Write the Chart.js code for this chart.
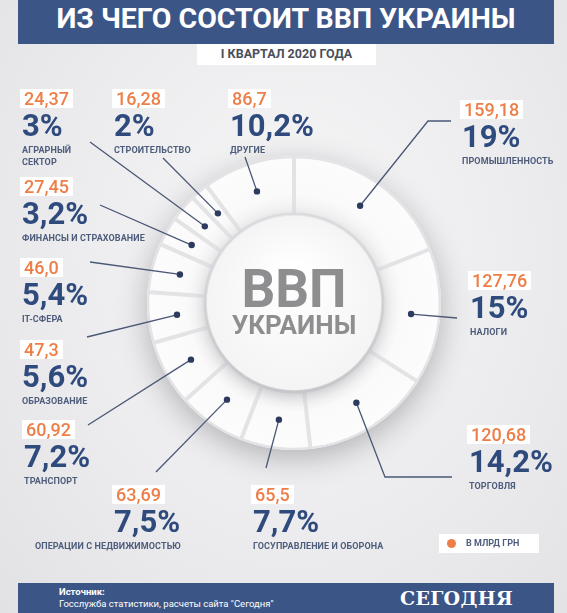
<!DOCTYPE html>
<html lang="ru">
<head>
<meta charset="utf-8">
<title>Из чего состоит ВВП Украины</title>
<script src="https://cdn.jsdelivr.net/npm/chart.js@4.4.1/dist/chart.umd.min.js"></script>
<style>
  html, body { margin: 0; padding: 0; }
  body {
    width: 567px; height: 613px; position: relative; overflow: hidden;
    font-family: Roboto, "Noto Sans", sans-serif;
    background: radial-gradient(ellipse at 52% 42%, #f7f7f8 0%, #ececee 55%, #e2e2e5 100%);
  }
  #chart { position: absolute; left: 0; top: 0; }
  .title-bar {
    position: absolute; left: 18px; top: 0; width: 536px; height: 44px;
    background: #3c5587; color: #fff; font-weight: 700; font-size: 28.5px;
    text-align: center; line-height: 38px;
  }
  .subtitle {
    position: absolute; left: 197px; top: 44px; width: 179px; height: 21px;
    background: #fff; color: #4a4f5c; font-weight: 700; font-size: 12.5px;
    text-align: center; line-height: 20px;
  }
  .lbl { position: absolute; }
  .lbl .num {
    position: absolute; left: 0; top: 0; height: 19px; line-height: 19px;
    background: #fff; color: #ee7e48; font-size: 18px; font-weight: 500; padding: 0 4px; white-space: nowrap;
  }
  .lbl .pct {
    position: absolute; left: 2px; top: 21px; line-height: 31px;
    color: #2f4a7c; font-weight: 700; font-size: 31px; white-space: nowrap;
  }
  .lbl .name {
    position: absolute; left: 2px; top: 55px; line-height: 12px;
    color: #4e5d7c; font-weight: 700; font-size: 9px; white-space: nowrap; letter-spacing: 0.1px;
  }
  .lbl.right-name .name { left: auto; right: -69px; text-align: right; }
  .center-text {
    position: absolute; left: 194px; width: 200px; text-align: center;
    color: #8e8e90; font-weight: 700;
  }
  .legend {
    position: absolute; left: 439px; top: 534px; width: 100px; height: 19px;
    background: #fff; color: #4e5d7c; font-size: 9px; font-weight: 700; line-height: 19px;
  }
  .legend span.dot {
    position: absolute; left: 8px; top: 5px; width: 9px; height: 9px; border-radius: 50%;
    background: #ee7e48;
  }
  .legend span.txt { position: absolute; left: 27px; }
  .footer {
    position: absolute; left: 18px; top: 583px; width: 536px; height: 30px;
    background: #3c5587; color: #fff;
  }
  .footer .src { position: absolute; left: 41px; top: 3px; font-size: 9.5px; line-height: 12px; }
  .footer .brand {
    position: absolute; left: 382px; top: 3px; font-family: "DejaVu Serif", serif;
    font-weight: 700; font-size: 19px; line-height: 24px; letter-spacing: 0.3px;
  }
</style>
</head>
<body>
<canvas id="chart" width="567" height="613"></canvas>

<div class="title-bar">ИЗ ЧЕГО СОСТОИТ ВВП УКРАИНЫ</div>
<div class="subtitle">I КВАРТАЛ 2020 ГОДА</div>

<div class="center-text" style="top:261px;font-size:53px;line-height:56px;">ВВП</div>
<div class="center-text" style="top:311px;font-size:26px;line-height:28px;">УКРАИНЫ</div>

<div id="labels"></div>

<div class="legend"><span class="dot"></span><span class="txt">В МЛРД ГРН</span></div>

<div class="footer">
  <div class="src"><b>Источник:</b><br>Госслужба статистики, расчеты сайта "Сегодня"</div>
  <div class="brand">СЕГОДНЯ</div>
</div>

<script>
// доли ВВП, I квартал 2020, по часовой стрелке от 12 часов
const sectors = ['ПРОМЫШЛЕННОСТЬ', 'НАЛОГИ', 'ТОРГОВЛЯ', 'ГОСУПРАВЛЕНИЕ И ОБОРОНА',
  'ОПЕРАЦИИ С НЕДВИЖИМОСТЬЮ', 'ТРАНСПОРТ', 'ОБРАЗОВАНИЕ', 'IT-СФЕРА',
  'ФИНАНСЫ И СТРАХОВАНИЕ', 'АГРАРНЫЙ<br>СЕКТОР', 'СТРОИТЕЛЬСТВО', 'ДРУГИЕ'];
const shares = [19, 15, 14.2, 7.7, 7.5, 7.2, 5.6, 5.4, 3.2, 3, 2, 10.2];
const amounts = ['159,18', '127,76', '120,68', '65,5', '63,69', '60,92', '47,3', '46,0', '27,45', '24,37', '16,28', '86,7'];

// where each label block sits, and the leader line points from the label side
const labelPos = [
  { x: 460, y: 100, line: [[451, 121], [428, 121]] },
  { x: 468, y: 271, line: [[457, 318]] },
  { x: 467, y: 425, line: [[452, 477], [385, 477]] },
  { x: 251, y: 485, line: [[266, 468]] },
  { x: 112, y: 485, line: [[156, 472]], right: true },
  { x: 22, y: 420, line: [[88, 425]] },
  { x: 20, y: 340, line: [[87, 337]] },
  { x: 20, y: 258, line: [[90, 262]] },
  { x: 20, y: 177, line: [[100, 205]] },
  { x: 20, y: 89, line: [[90, 142]] },
  { x: 112, y: 89, line: [[163, 158]] },
  { x: 228, y: 89, line: [[245, 157]] }
];

const labelsEl = document.getElementById('labels');
sectors.forEach((name, i) => {
  const p = labelPos[i];
  const div = document.createElement('div');
  div.className = 'lbl' + (p.right ? ' right-name' : '');
  div.style.left = p.x + 'px';
  div.style.top = p.y + 'px';
  div.innerHTML = `<div class="num">${amounts[i]}</div>
    <div class="pct">${String(shares[i]).replace('.', ',')}%</div>
    <div class="name">${name}</div>`;
  labelsEl.appendChild(div);
});

const platePlugin = {
  id: 'plate',
  beforeDatasetsDraw(chart) {
    const arc = chart.getDatasetMeta(0).data[0];
    if (!arc) return;
    const ctx = chart.ctx;
    ctx.save();
    ctx.shadowColor = 'rgba(60,60,70,0.35)';
    ctx.shadowBlur = 30;
    ctx.shadowOffsetY = 8;
    ctx.beginPath();
    ctx.arc(arc.x, arc.y, arc.outerRadius, 0, Math.PI * 2);
    ctx.fillStyle = '#f3f3f4';
    ctx.fill();
    ctx.restore();
  },
  afterDatasetsDraw(chart) {
    const meta = chart.getDatasetMeta(0);
    const arc0 = meta.data[0];
    const ctx = chart.ctx;
    // inner disc
    ctx.save();
    ctx.shadowColor = 'rgba(60,60,70,0.28)';
    ctx.shadowBlur = 16;
    ctx.shadowOffsetY = 5;
    const g = ctx.createRadialGradient(arc0.x, arc0.y - 30, 10, arc0.x, arc0.y, arc0.innerRadius);
    g.addColorStop(0, '#ffffff');
    g.addColorStop(1, '#f4f4f5');
    ctx.beginPath();
    ctx.arc(arc0.x, arc0.y, arc0.innerRadius - 1, 0, Math.PI * 2);
    ctx.fillStyle = g;
    ctx.fill();
    ctx.restore();

    // leader lines and dots
    ctx.save();
    ctx.strokeStyle = '#4a5775';
    ctx.lineWidth = 1.3;
    ctx.fillStyle = '#2c3b5e';
    meta.data.forEach((arc, i) => {
      const c = arc.tooltipPosition();
      const pts = labelPos[i].line;
      ctx.beginPath();
      ctx.moveTo(pts[0][0], pts[0][1]);
      for (let k = 1; k < pts.length; k++) ctx.lineTo(pts[k][0], pts[k][1]);
      ctx.lineTo(c.x, c.y);
      ctx.stroke();
      ctx.beginPath();
      ctx.arc(c.x, c.y, 3.2, 0, Math.PI * 2);
      ctx.fill();
    });
    ctx.restore();
  }
};

new Chart(document.getElementById('chart'), {
  type: 'doughnut',
  data: {
    labels: sectors,
    datasets: [{
      data: shares,
      backgroundColor: (context) => {
        const chart = context.chart;
        const area = chart.chartArea;
        if (!area) return '#f8f8f9';
        const cx = (area.left + area.right) / 2, cy = (area.top + area.bottom) / 2;
        const g = chart.ctx.createRadialGradient(cx, cy, 88, cx, cy, 147);
        g.addColorStop(0, '#eeeeef');
        g.addColorStop(0.35, '#fafafa');
        g.addColorStop(1, '#fcfcfc');
        return g;
      },
      borderColor: '#e3e3e6',
      borderWidth: 2,
      borderAlign: 'inner'
    }]
  },
  options: {
    responsive: false,
    animation: false,
    events: [],
    radius: 147,
    cutout: '60%',
    layout: { padding: { left: 21, right: 0, top: 0, bottom: 7 } },
    plugins: {
      legend: { display: false },
      tooltip: { enabled: false }
    }
  },
  plugins: [platePlugin]
});
</script>
</body>
</html>
